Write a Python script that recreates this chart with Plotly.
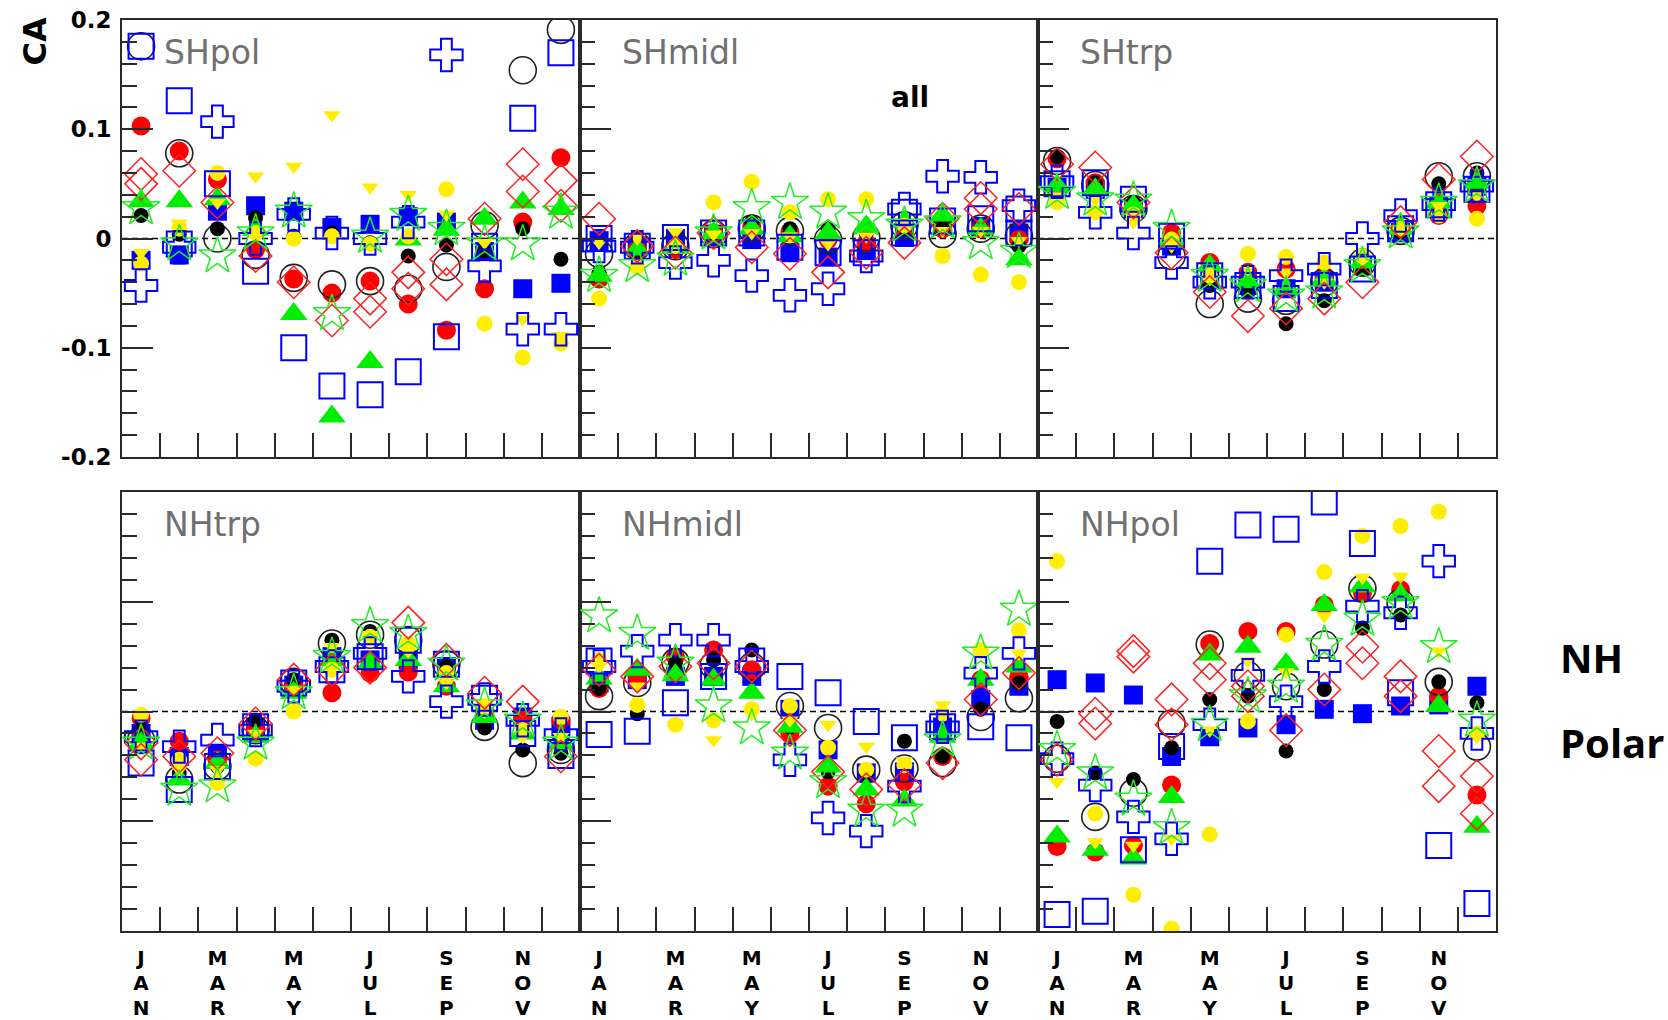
import plotly.graph_objects as go

# Panels in drawing order: top row (SH), then bottom row (NH)
PANELS = ["SHpol", "SHmidl", "SHtrp", "NHtrp", "NHmidl", "NHpol"]
MONTHS = list(range(1, 13))
# Month names written vertically under every other month, one list per text row
MONTH_ROWS = [
    ["J", "M", "M", "J", "S", "N"],
    ["A", "A", "A", "U", "E", "O"],
    ["N", "R", "Y", "L", "P", "V"],
]
MONTH_LABEL_POS = [1, 3, 5, 7, 9, 11]
Y_TICKS = [-0.2, -0.1, 0.0, 0.1, 0.2]
Y_TICK_TEXT = ["-0.2", "-0.1", "0", "0.1", "0.2"]

N = None
# Monthly CA values, one row of 12 months per panel (same order as PANELS)
blue_block = [
    [-0.020, -0.015, 0.025, 0.030, 0.025, 0.010, 0.013, 0.020, 0.015, -0.012, -0.046, -0.041],
    [-0.002, -0.007, 0.000, 0.004, -0.001, -0.013, -0.017, -0.011, 0.001, 0.011, 0.011, 0.005],
    [0.047, 0.045, 0.027, -0.007, -0.037, -0.043, -0.046, -0.040, -0.025, 0.006, 0.030, 0.048],
    [-0.020, -0.041, -0.038, -0.014, 0.024, 0.050, 0.047, 0.047, 0.041, -0.008, -0.005, -0.014],
    [0.026, 0.029, 0.032, 0.032, 0.032, 0.002, -0.035, -0.056, -0.055, -0.014, 0.011, 0.023],
    [0.029, 0.026, 0.015, -0.041, -0.023, -0.015, -0.012, 0.002, -0.002, 0.005, 0.006, 0.023],
]
red_dot = [
    [0.103, 0.080, 0.054, -0.010, -0.037, -0.050, -0.039, -0.060, -0.084, -0.046, 0.015, 0.074],
    [-0.037, -0.010, -0.010, 0.005, 0.011, 0.006, -0.001, -0.004, 0.011, 0.009, 0.009, -0.001],
    [0.073, 0.051, 0.030, 0.005, -0.022, -0.031, -0.028, -0.034, -0.024, 0.009, 0.021, 0.030],
    [-0.006, -0.027, -0.044, -0.014, 0.023, 0.017, 0.035, 0.036, 0.023, 0.000, -0.008, -0.008],
    [0.021, 0.032, 0.050, 0.056, 0.038, -0.020, -0.068, -0.084, -0.064, -0.041, 0.029, 0.032],
    [-0.123, -0.128, -0.122, -0.067, 0.062, 0.073, 0.073, 0.097, 0.108, 0.111, 0.014, -0.076],
]
black_ring = [
    [0.176, 0.078, 0.000, -0.015, -0.036, -0.042, -0.039, -0.046, -0.026, 0.012, 0.154, 0.191],
    [-0.014, -0.007, -0.007, 0.004, 0.009, 0.007, -0.001, 0.001, 0.012, 0.004, 0.009, 0.002],
    [0.071, 0.049, 0.027, -0.016, -0.060, -0.055, -0.057, -0.040, -0.022, 0.007, 0.057, 0.057],
    [-0.026, -0.062, -0.050, -0.017, 0.027, 0.062, 0.070, 0.065, 0.043, -0.014, -0.047, -0.035],
    [0.014, 0.026, 0.045, 0.042, 0.041, 0.005, -0.015, -0.053, -0.052, -0.047, -0.005, 0.012],
    [-0.043, -0.096, -0.074, -0.011, 0.061, 0.033, 0.023, 0.061, 0.112, 0.099, 0.027, -0.032],
]
black_dot = [
    [0.021, 0.004, 0.009, 0.019, 0.002, 0.005, -0.004, -0.016, -0.006, -0.012, 0.009, -0.019],
    [-0.031, -0.016, -0.008, 0.005, 0.015, 0.009, 0.009, 0.005, 0.009, 0.009, 0.010, -0.007],
    [0.075, 0.051, 0.033, -0.007, -0.043, -0.049, -0.078, -0.057, -0.028, 0.006, 0.050, 0.060],
    [-0.015, -0.056, -0.050, -0.008, 0.029, 0.065, 0.073, 0.050, 0.041, -0.015, -0.035, -0.038],
    [0.021, -0.002, 0.044, 0.047, 0.056, -0.014, -0.055, -0.056, -0.027, -0.041, 0.002, 0.026],
    [-0.009, -0.056, -0.062, -0.033, 0.011, 0.014, -0.036, 0.020, 0.076, 0.088, 0.027, 0.008],
]
green_tri = [
    [0.034, 0.034, 0.036, 0.008, -0.069, -0.163, -0.113, -0.001, 0.008, 0.018, 0.033, 0.027],
    [-0.034, -0.010, -0.007, 0.005, 0.009, 0.002, 0.005, 0.011, 0.015, 0.021, 0.009, -0.019],
    [0.048, 0.045, 0.030, -0.004, -0.025, -0.040, -0.046, -0.037, -0.022, 0.009, 0.033, 0.051],
    [-0.029, -0.062, -0.047, -0.023, 0.017, 0.047, 0.044, 0.047, 0.023, -0.005, -0.020, -0.029],
    [0.030, 0.038, 0.033, 0.029, 0.017, -0.014, -0.050, -0.071, -0.081, -0.023, 0.029, 0.041],
    [-0.114, -0.126, -0.134, -0.078, 0.052, 0.059, 0.043, 0.097, 0.114, 0.106, 0.005, -0.105],
]
yellow_dot = [
    [-0.023, 0.009, 0.060, 0.005, 0.000, 0.002, -0.005, 0.002, 0.045, -0.078, -0.109, -0.096],
    [-0.055, -0.026, -0.007, 0.033, 0.052, 0.024, 0.036, 0.036, 0.012, -0.016, -0.033, -0.040],
    [0.033, 0.024, 0.022, -0.001, -0.034, -0.014, -0.017, -0.022, -0.016, 0.009, 0.021, 0.018],
    [-0.003, -0.044, -0.065, -0.043, 0.000, 0.038, 0.068, 0.062, 0.035, 0.005, -0.017, -0.005],
    [0.047, 0.006, -0.012, -0.008, 0.002, 0.005, -0.033, -0.053, -0.049, -0.002, 0.056, 0.074],
    [0.137, -0.093, -0.167, -0.198, -0.112, -0.009, 0.070, 0.127, 0.160, 0.169, 0.182, -0.020],
]
yellow_tri = [
    [-0.013, 0.014, 0.033, 0.057, 0.066, 0.113, 0.047, 0.040, 0.022, -0.004, -0.074, -0.089],
    [-0.004, 0.000, 0.006, 0.004, 0.005, 0.002, -0.005, 0.002, 0.012, 0.007, 0.007, -0.002],
    [0.039, 0.036, 0.015, -0.007, -0.037, -0.028, -0.031, -0.040, -0.019, 0.009, 0.030, 0.039],
    [-0.032, -0.053, -0.053, -0.020, 0.020, 0.059, 0.070, 0.055, 0.026, 0.000, -0.023, -0.023],
    [0.041, 0.023, -0.012, -0.026, -0.002, -0.008, -0.012, -0.032, -0.045, 0.006, 0.053, 0.053],
    [-0.064, -0.119, -0.122, -0.116, -0.017, 0.046, 0.036, 0.087, 0.122, 0.123, 0.055, -0.023],
]
blue_box = [
    [0.176, 0.126, 0.050, -0.030, -0.100, -0.135, -0.143, -0.122, -0.090, -0.007, 0.110, 0.170],
    [0.000, -0.007, 0.001, 0.005, 0.005, -0.008, -0.013, -0.013, 0.024, 0.016, 0.018, 0.027],
    [0.050, 0.051, 0.036, 0.002, -0.034, -0.043, -0.055, -0.043, -0.028, 0.009, 0.031, 0.045],
    [-0.047, -0.071, -0.050, -0.014, 0.026, 0.038, 0.050, 0.065, 0.043, 0.012, -0.020, -0.040],
    [-0.021, -0.018, 0.008, 0.032, 0.046, 0.032, 0.017, -0.009, -0.024, -0.014, -0.014, -0.024],
    [-0.185, -0.182, -0.126, -0.032, 0.137, 0.170, 0.166, 0.191, 0.153, 0.017, -0.122, -0.175],
]
blue_box_b = [
    [N, -0.005, N, N, N, N, N, N, N, N, N, N],
    [N, N, N, N, N, N, N, N, 0.005, N, N, 0.005],
    [N, N, N, N, N, N, N, N, N, N, N, N],
    [N, N, N, N, N, N, N, N, N, N, N, N],
    [0.046, N, N, N, N, N, N, N, N, N, N, N],
    [N, N, N, N, N, N, N, N, N, N, N, N],
]
blue_cross = [
    [-0.043, -0.008, 0.107, 0.000, 0.022, 0.005, 0.000, 0.015, 0.168, -0.025, -0.083, -0.083],
    [-0.007, -0.008, -0.022, -0.020, -0.034, -0.052, -0.046, -0.016, 0.027, 0.057, 0.056, 0.030],
    [0.052, 0.024, 0.005, -0.022, -0.040, -0.040, -0.034, -0.028, 0.000, 0.021, 0.031, 0.048],
    [-0.023, -0.032, -0.026, -0.017, 0.023, 0.041, 0.053, 0.032, 0.009, 0.011, -0.008, -0.021],
    [0.041, 0.055, 0.065, 0.065, 0.041, -0.044, -0.097, -0.109, -0.068, -0.014, 0.035, 0.053],
    [-0.043, -0.067, -0.096, -0.116, -0.012, 0.033, 0.009, 0.041, 0.096, 0.090, 0.137, -0.020],
]
red_diam = [
    [0.059, 0.062, 0.033, -0.016, -0.040, -0.075, -0.067, -0.046, -0.042, 0.018, 0.068, 0.053],
    [0.018, -0.007, -0.013, 0.005, -0.008, -0.014, -0.031, -0.013, -0.004, 0.018, 0.037, 0.027],
    [0.068, 0.065, 0.033, -0.013, -0.049, -0.071, -0.064, -0.055, -0.040, 0.015, 0.054, 0.075],
    [-0.029, -0.041, -0.038, -0.011, 0.029, 0.038, 0.040, 0.081, 0.047, 0.017, 0.009, -0.041],
    [0.038, 0.032, 0.041, 0.044, 0.041, -0.017, -0.055, -0.071, -0.067, -0.047, 0.011, 0.035],
    [-0.044, -0.002, 0.055, 0.011, 0.044, 0.023, -0.017, 0.020, 0.059, 0.032, -0.036, -0.059],
]
red_diam_b = [
    [0.050, N, N, N, N, N, -0.055, -0.031, -0.019, N, 0.043, 0.030],
    [N, N, N, N, N, N, N, N, N, N, 0.027, N],
    [N, N, N, N, N, N, N, N, N, N, N, N],
    [-0.044, N, N, N, N, N, N, N, N, N, N, N],
    [N, N, N, N, N, N, N, N, N, N, N, N],
    [N, -0.011, 0.050, -0.012, 0.029, 0.014, N, N, 0.044, 0.014, -0.068, -0.093],
]
green_star = [
    [0.028, -0.005, -0.016, 0.005, 0.025, -0.069, 0.002, 0.022, 0.009, -0.005, -0.005, 0.024],
    [-0.034, -0.025, -0.019, 0.005, 0.028, 0.033, 0.024, 0.018, 0.012, 0.015, -0.004, -0.012],
    [0.042, 0.036, 0.035, 0.009, -0.034, -0.043, -0.052, -0.049, -0.025, 0.006, 0.033, 0.048],
    [-0.029, -0.071, -0.068, -0.029, 0.017, 0.050, 0.078, 0.071, 0.043, 0.005, -0.008, -0.029],
    [0.087, 0.071, 0.044, 0.005, -0.015, -0.038, -0.064, -0.090, -0.090, -0.026, 0.053, 0.093],
    [-0.035, -0.056, -0.080, -0.106, -0.012, 0.014, 0.023, 0.061, 0.084, 0.099, 0.059, -0.008],
]

# Marker styles, bottom layer first: (values, symbol, color, size, outline width)
STYLES = [
    (blue_block, "square", "#0000ff", 19, 0),
    (red_dot, "circle", "#ff0000", 19, 0),
    (black_ring, "circle-open", "#222222", 27, 1.6),
    (black_dot, "circle", "#000000", 15, 0),
    (green_tri, "triangle-up", "#00ee00", 24, 0),
    (yellow_dot, "circle", "#ffee00", 16, 0),
    (yellow_tri, "triangle-down", "#ffee00", 15, 0),
    (blue_box, "square-open", "#0000ff", 25, 2),
    (blue_box_b, "square-open", "#0000ff", 25, 2),
    (blue_cross, "cross-open", "#0000ff", 27, 2),
    (red_diam, "diamond-open", "#ff2020", 25, 1.5),
    (red_diam_b, "diamond-open", "#ff2020", 25, 1.5),
    (green_star, "star-open", "#22ee22", 28, 1.5),
]

W, H = 1668, 1020
L, R, T, B = 122, 172, 20, 89
plot_w = W - L - R
plot_h = H - T - B
row_dom = [[(931 - 457) / plot_h, 1.0], [0.0, (931 - 492) / plot_h]]
col_dom = [[0.0, 1 / 3], [1 / 3, 2 / 3], [2 / 3, 1.0]]

AX_COLOR = "#2a2a2a"
BOLD = dict(family="DejaVu Sans, Liberation Sans, Arial", weight="bold", color="black")
LETTER_FONT = dict(BOLD, size=20)
LETTER_STANDOFF = [13, 38, 63]   # one text row per month-letter axis

fig = go.Figure()
layout = {}
annotations = []
shapes = []
extra_axis = 7

for p, name in enumerate(PANELS):
    idx = p + 1
    row, col = divmod(p, 3)
    xa = "x" if idx == 1 else f"x{idx}"
    ya = "y" if idx == 1 else f"y{idx}"
    for values, symbol, color, size, lw in STYLES:
        fig.add_trace(go.Scatter(
            x=[m - 0.5 for m in MONTHS],
            y=values[p],
            mode="markers",
            xaxis=xa, yaxis=ya,
            marker=dict(symbol=symbol, color=color, size=size,
                        line=dict(color=color, width=lw)),
            hoverinfo="skip",
            showlegend=False,
        ))
    label_x = [m - 0.5 for m in MONTH_LABEL_POS]
    layout[f"xaxis{idx}"] = dict(
        domain=col_dom[col], anchor=ya, range=[0, 12], automargin=False,
        showline=True, mirror=True, linecolor=AX_COLOR, linewidth=2,
        showgrid=False, zeroline=False, fixedrange=True,
        tickmode="array", tickvals=label_x, ticks="", showticklabels=False,
        minor=dict(tickmode="array", tickvals=list(range(1, 12)), ticks="inside",
                   ticklen=24, tickwidth=2, tickcolor=AX_COLOR, showgrid=False),
    )
    layout[f"yaxis{idx}"] = dict(
        domain=row_dom[row], anchor=xa, range=[-0.2, 0.2], automargin=False,
        showline=True, mirror=True, linecolor=AX_COLOR, linewidth=2,
        showgrid=False, zeroline=False, fixedrange=True,
        tickmode="array", tickvals=Y_TICKS, ticktext=Y_TICK_TEXT,
        ticks="inside", ticklen=31, tickwidth=2, tickcolor=AX_COLOR,
        showticklabels=(idx == 1), ticklabelstandoff=4,
        tickfont=dict(BOLD, size=23),
        minor=dict(tickmode="linear", tick0=0, dtick=0.02, ticks="inside",
                   ticklen=15, tickwidth=2, tickcolor=AX_COLOR, showgrid=False),
    )
    # month names, written top to bottom, one overlaid x axis per letter row
    if row == 1:
        for k in range(3):
            ax_id = f"x{extra_axis}"
            layout[f"xaxis{extra_axis}"] = dict(
                overlaying=xa, anchor=ya, side="bottom", range=[0, 12], automargin=False,
                showline=False, showgrid=False, zeroline=False, fixedrange=True,
                tickmode="array", tickvals=label_x, ticktext=MONTH_ROWS[k],
                ticks="", ticklabelstandoff=LETTER_STANDOFF[k],
                tickfont=LETTER_FONT,
            )
            fig.add_trace(go.Scatter(x=[None], y=[None], xaxis=ax_id, yaxis=ya,
                                     mode="markers", showlegend=False, hoverinfo="skip"))
            extra_axis += 1
    # dashed zero reference line
    shapes.append(dict(type="line", xref=f"{xa} domain", x0=0, x1=1,
                       yref=ya, y0=0, y1=0, layer="below",
                       line=dict(color="black", width=1.5, dash="6px,4px")))
    # region name inside the panel
    annotations.append(dict(text=name, xref=f"{xa} domain", yref=f"{ya} domain",
                            x=0, y=1, xshift=40, yshift=-32, xanchor="left", yanchor="middle",
                            showarrow=False,
                            font=dict(family="DejaVu Sans, Liberation Sans", size=33, color="#707070")))

annotations += [
    dict(text="all", xref="x2 domain", yref="y2 domain", x=0, y=1, xshift=330, yshift=-77,
         xanchor="center", yanchor="middle", showarrow=False, font=dict(BOLD, size=28)),
    dict(text="CA", xref="paper", yref="paper", x=(34.5 - L) / plot_w, y=(931 - 42) / plot_h,
         xanchor="center", yanchor="middle", textangle=-90, showarrow=False,
         font=dict(BOLD, size=32)),
    dict(text="NH", xref="paper", yref="paper", x=(1558 - L) / plot_w, y=(931 - 657) / plot_h,
         xanchor="left", yanchor="middle", showarrow=False,
         font=dict(family="Open Sans, Noto Sans", weight="bold", size=40, color="black")),
    dict(text="Polar", xref="paper", yref="paper", x=(1558 - L) / plot_w, y=(931 - 742) / plot_h,
         xanchor="left", yanchor="middle", showarrow=False,
         font=dict(family="Open Sans, Noto Sans", weight="bold", size=40, color="black")),
]

fig.update_layout(
    width=W, height=H,
    margin=dict(l=L, r=R, t=T, b=B, pad=0, autoexpand=False),
    paper_bgcolor="white", plot_bgcolor="white",
    showlegend=False,
    annotations=annotations,
    shapes=shapes,
    **layout,
)

fig.write_html("out.html", include_plotlyjs=True, config={"displayModeBar": False})
